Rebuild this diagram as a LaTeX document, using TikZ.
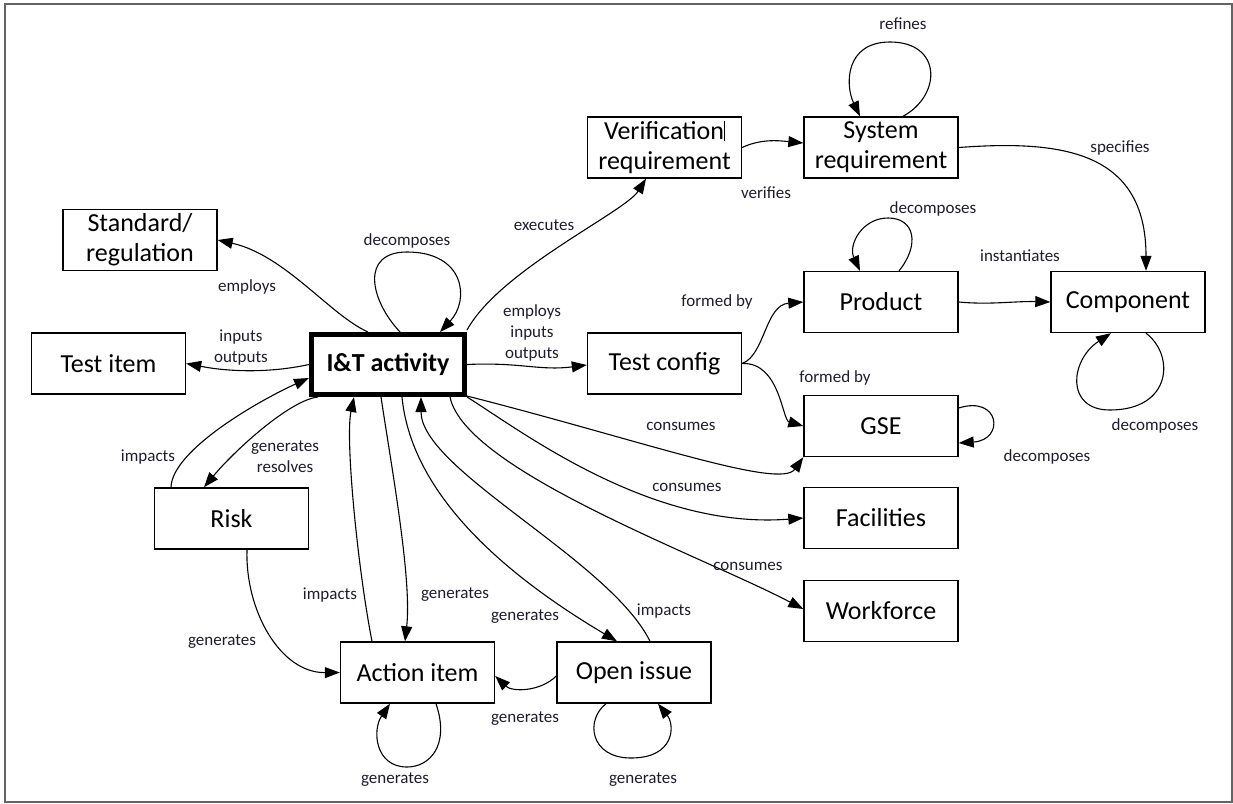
\documentclass[tikz,border=0pt]{standalone}
\usepackage{fontspec}
\setmainfont{Carlito}
\usetikzlibrary{arrows.meta}
\definecolor{lbl}{RGB}{30,30,42}
\definecolor{frm}{RGB}{100,100,100}
\begin{document}
\begin{tikzpicture}[x=1pt,y=-1pt,
  ent/.style={draw, line width=1.4pt, minimum width=154pt, minimum height=61pt, inner sep=2pt, align=center, font=\fontsize{26}{30}\selectfont},
  mainent/.style={ent, line width=5pt, minimum width=153pt, minimum height=60pt, font=\fontsize{26}{30}\selectfont\bfseries},
  twoline/.style={yshift=-2pt},
  lab/.style={font=\fontsize{17}{21}\selectfont, text=lbl, align=center, inner sep=1pt},
  rel/.style={line width=1.1pt, -{Triangle[length=15pt,width=11pt]}},
]
\useasboundingbox (0,0) rectangle (1233,803);
\draw[frm, line width=2pt] (4.5,3.5) rectangle (1231.5,801.5);

% entities
\node[ent] (std) at (140,240) {Standard/\\regulation};
\node[ent] (ti) at (108.5,363.5) {Test item};
\node[mainent] (it) at (388,364.5) {I\&T activity};
\node[ent] (ver) at (664.5,147.5) {Verification\rule[-1pt]{0.9pt}{20pt}\\requirement};
\node[ent] (sys) at (881,147.5) {System\\requirement};
\node[ent] (prod) at (881,302) {Product};
\node[ent] (comp) at (1128,302) {Component};
\node[ent] (tc) at (664.5,363.5) {Test config};
\node[ent] (gse) at (881,426) {GSE};
\node[ent] (fac) at (881,518) {Facilities};
\node[ent] (wf) at (881,611) {Workforce};
\node[ent] (risk) at (231.5,518.5) {Risk};
\node[ent] (act) at (417.5,672.5) {Action item};
\node[ent] (oi) at (634,672.5) {Open issue};

% relations
\draw[rel] ([xshift=-20pt]it.north) .. controls (330,315) and (285,255) .. (std.east);
\draw[rel] ([xshift=12pt]it.north) .. controls (370,300) and (360,252) .. (407,252) .. controls (465,252) and (470,300) .. ([xshift=52pt]it.north);
\draw[rel] (it.west) .. controls (270,373) and (230,372) .. (ti.east);
\draw[rel] ([xshift=-60.5pt]risk.north) .. controls (172,450) and (260,400) .. ([yshift=-13.5pt]it.west);
\draw[rel] ([xshift=-70pt]it.south) .. controls (290,400) and (235,450) .. ([xshift=-27.5pt]risk.north);
\draw[rel] ([xshift=-45.5pt]act.north) .. controls (358,570) and (345,440) .. ([xshift=-34pt]it.south);
\draw[rel] ([xshift=-7pt]it.south) .. controls (392,470) and (412,580) .. ([xshift=-12.5pt]act.north);
\draw[rel] ([xshift=14pt]it.south) .. controls (410,480) and (480,560) .. ([xshift=-17pt]oi.north);
\draw[rel] ([xshift=16pt]oi.north) .. controls (610,560) and (421,470) .. ([xshift=33pt]it.south);
\draw[rel] ([yshift=-3.5pt]oi.west) .. controls (540,692) and (512,692) .. ([yshift=-3.5pt]act.east);
\draw[rel] ([xshift=18.5pt]act.south) .. controls (450,745) and (430,767) .. (407,767) .. controls (375,767) and (372,730) .. ([xshift=-27.5pt]act.south);
\draw[rel] ([xshift=-28pt]oi.south) .. controls (585,720) and (590,758) .. (631,758) .. controls (675,758) and (675,725) .. ([xshift=24pt]oi.south);
\draw[rel] ([xshift=15.5pt]risk.south) .. controls (245,610) and (280,673) .. (act.west);
\draw[rel] ([yshift=1pt]it.south east) .. controls (640,440) and (780,490) .. (gse.south west);
\draw[rel] (it.south east) .. controls (520,430) and (650,530) .. (fac.west);
\draw[rel] ([xshift=62pt]it.south) .. controls (465,470) and (700,555) .. ([yshift=2pt]wf.west);
\draw[rel] (it.east) .. controls (520,362) and (540,371) .. ([yshift=-1.5pt]tc.west);
\draw[rel] ([yshift=2pt]it.north east) .. controls (500,270) and (625,212) .. ([xshift=-18.5pt]ver.south);
\draw[rel] (ver.east) .. controls (762,138) and (782,141) .. ([yshift=4.5pt]sys.west);
\draw[rel] ([xshift=22pt]sys.north) .. controls (942,95) and (942,42) .. (890,42) .. controls (845,42) and (845,85) .. ([xshift=-21pt]sys.north);
\draw[rel] (sys.east) .. controls (1060,140) and (1146,150) .. ([xshift=18pt]comp.north);
\draw[rel] ([xshift=18pt]prod.north) .. controls (920,245) and (915,218) .. (888,218) .. controls (862,218) and (848,245) .. ([xshift=-21pt]prod.north);
\draw[rel] (prod.east) .. controls (990,305) and (1015,301) .. (comp.west);
\draw[rel] ([xshift=18pt]comp.south) .. controls (1175,355) and (1172,410) .. (1110,410) .. controls (1065,410) and (1070,360) .. ([xshift=-17pt]comp.south);
\draw[rel] (tc.east) .. controls (765,355) and (765,305) .. (prod.west);
\draw[rel] (tc.east) .. controls (780,362) and (782,420) .. (gse.west);
\draw[rel] ([yshift=18pt]gse.east) .. controls (1000,395) and (1005,440) .. ([yshift=-17pt]gse.east);

% labels
\node[lab] (l1) at (247,287) {employs};
\node[lab] (l2) at (407,241) {decomposes};
\node[lab] (l3) at (241,348) {inputs\\outputs};
\node[lab] (l4) at (148,457) {impacts};
\node[lab] (l5) at (285,457) {generates\\resolves};
\node[lab] (l6) at (330,595) {impacts};
\node[lab] (l7) at (455,595) {generates};
\node[lab] (l8) at (525,617) {generates};
\node[lab] (l9) at (664,611) {impacts};
\node[lab] (l10) at (525,719) {generates};
\node[lab] (l11) at (395,780) {generates};
\node[lab] (l12) at (643,780) {generates};
\node[lab] (l13) at (222,642) {generates};
\node[lab] (l14) at (681,426) {consumes};
\node[lab] (l15) at (687,487) {consumes};
\node[lab] (l16) at (748,566) {consumes};
\node[lab] (l17) at (532,333) {employs\\inputs\\outputs};
\node[lab] (l18) at (544,225) {executes};
\node[lab] (l19) at (766,193) {verifies};
\node[lab] (l20) at (903,24) {refines};
\node[lab] (l21) at (1120,148) {specifies};
\node[lab] (l22) at (933,209) {decomposes};
\node[lab] (l23) at (1020,256) {instantiates};
\node[lab] (l24) at (1155,426) {decomposes};
\node[lab] (l25) at (717,302) {formed by};
\node[lab] (l26) at (835,378) {formed by};
\node[lab] (l27) at (1047,457) {decomposes};
\end{tikzpicture}
\end{document}
